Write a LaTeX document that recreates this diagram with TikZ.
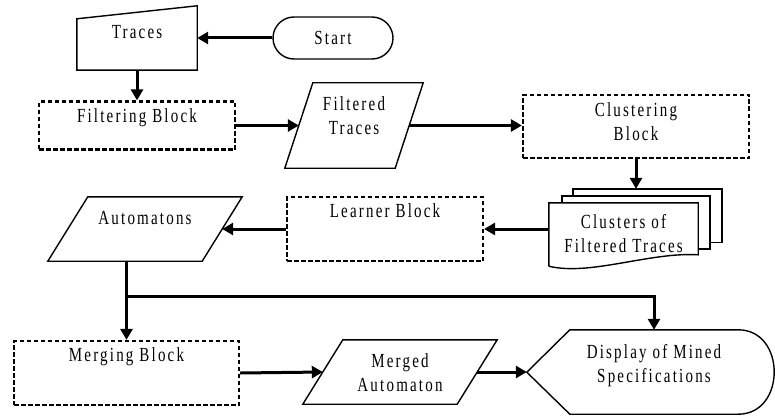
\documentclass[tikz,border=0pt]{standalone}
\usepackage{fontspec}
\setmainfont{Liberation Serif}[FakeStretch=0.75,LetterSpace=11]
\usepackage{tikz}
\usetikzlibrary{arrows.meta, calc}

\begin{document}
\begin{tikzpicture}[
    x=1pt, y=-1pt,
    every node/.style={inner sep=0pt, align=center,
      font=\fontsize{20}{24}\selectfont},
    outline/.style={line width=1.4pt},
    block/.style={draw, line width=2.2pt, dash pattern=on 4.5pt off 2.5pt},
    wire/.style={line width=3pt},
    link/.style={wire, -{Triangle[length=11pt,width=12pt]}}
  ]
  \useasboundingbox (0,0) rectangle (775,417);
  % nodes, placed at the pixel positions of the flow chart
  \node[draw, outline, rounded corners=21pt, minimum width=120pt,
    minimum height=42pt] (start) at (333,38) {Start};
  \node[minimum width=120pt, text height=33pt, text depth=31pt]
    (traces) at (137,38) {Traces};
  \node[block, minimum width=196pt, text height=21pt, text depth=27pt]
    (filter) at (137,125.5) {Filtering Block};
  \node[minimum width=138pt, text height=51pt, text depth=34pt]
    (ftraces) at (354,125.5) {Filtered\\Traces};
  \node[block, minimum width=226pt, text height=45pt, text depth=18pt]
    (cluster) at (636,126.5) {Clustering\\Block};
  \node[minimum width=149pt, text height=49pt, text depth=14pt]
    (clusters) at (623.5,234.5) {Clusters of\\Filtered Traces};
  \node[block, minimum width=196pt, text height=20pt, text depth=44pt]
    (learner) at (385,229) {Learner Block};
  \node[minimum width=194pt, text height=27pt, text depth=37pt]
    (autom) at (145,229) {Automatons};
  \node[block, minimum width=225pt, text height=20.7pt, text depth=43.3pt]
    (merge) at (126.5,373) {Merging Block};
  \node[minimum width=194pt, text height=51pt, text depth=13pt]
    (mautom) at (400,372) {Merged\\Automaton};
  \node[minimum width=168pt, text height=52pt, text depth=32pt]
    (display) at (654,372) {Display of Mined\\Specifications};

  % outlines of the shaped nodes
  \draw[outline] ($(traces.north west)+(0,13)$) -- (traces.north east)
    -- (traces.south east) -- (traces.south west) -- cycle;
  \draw[outline] ($(ftraces.north west)+(28,0)$) -- (ftraces.north east)
    -- ($(ftraces.south east)+(-28,0)$) -- (ftraces.south west) -- cycle;
  \draw[outline] ($(autom.north west)+(40,0)$) -- (autom.north east)
    -- ($(autom.south east)+(-40,0)$) -- (autom.south west) -- cycle;
  \draw[outline] ($(mautom.north west)+(40,0)$) -- (mautom.north east)
    -- ($(mautom.south east)+(-40,0)$) -- (mautom.south west) -- cycle;
  \draw[outline] (display.north west) -- (display.north east)
    .. controls +(48,0) and +(48,0) .. (display.south east)
    -- (display.south west) -- ++(-43,-42) -- cycle;
  \draw[outline] (clusters.north west) ++(24,-7) -- ++(0,-7) -- ++(149,0)
    -- ++(0,53.7) -- ++(-12,0);
  \draw[outline] (clusters.north west) ++(13,0) -- ++(0,-7) -- ++(148,0)
    -- ++(0,53.3) -- ++(-12,0);
  \draw[outline] (clusters.south west) -- (clusters.north west)
    -- (clusters.north east) -- ($(clusters.north east)+(0,52)$)
    .. controls +(-48,-3) and +(41,10) .. (clusters.south west);

  % connectors
  \coordinate (split) at ($(autom.south -| merge.north)+(0,35)$);
  \path[link]
    (start) edge (traces)
    (traces) edge (filter)
    (filter.east) edge ($(ftraces.west)+(14,0)$)
    ($(ftraces.east)+(-14,0)$) edge (cluster.west |- ftraces.east)
    (cluster.south) edge ($(cluster.south |- clusters.north)+(0,-14)$)
    (clusters.west |- learner.east) edge (learner.east)
    (learner.west) edge ($(autom.east)+(-20,0)$)
    (split) edge (merge)
    (merge.east) edge ($(mautom.west)+(20,0)$)
    ($(mautom.east)+(-20,0)$) edge ($(display.west)+(-43,0)$)
    ;
  \draw[wire] (autom.south -| merge.north) -- (split);
  \draw[link] (split) -| (display.north);
\end{tikzpicture}
\end{document}
